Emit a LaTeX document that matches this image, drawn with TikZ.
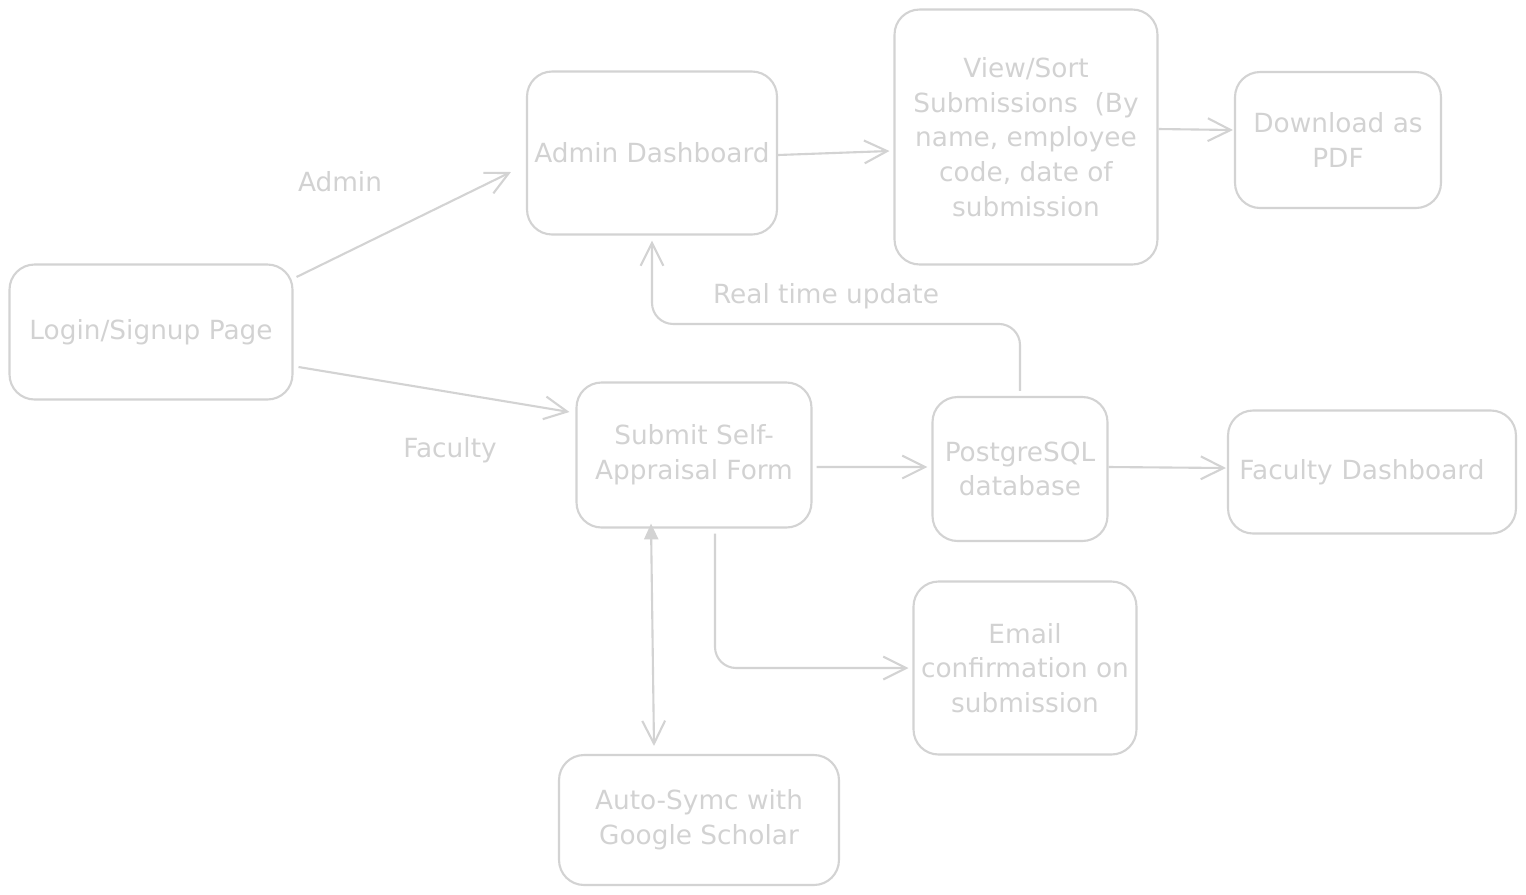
\documentclass[tikz,border=0pt]{standalone}
\usepackage{fontspec}
\setmainfont{DejaVu Sans}
\usetikzlibrary{arrows.meta}
\definecolor{sketch}{RGB}{211, 211, 211}
\definecolor{inkgray}{RGB}{210, 210, 210}

\begin{document}
\begin{tikzpicture}[x=0.02cm, y=-0.02cm,
    box/.style={draw=sketch, line width=1.2pt, rounded corners=0.5cm,
      text=inkgray, align=center, inner sep=2pt,
      font=\fontsize{15}{19.8}\selectfont},
    lbl/.style={text=inkgray, font=\fontsize{15}{19.8}\selectfont},
    arr/.style={draw=sketch, line width=1.2pt,
      -{Straight Barb[length=13pt, width=13pt, line width=1.2pt]}}]
        \useasboundingbox (0,0) rectangle (1526,894);
        % Entry page
        \node[box, minimum width=5.66cm, minimum height=2.70cm] (login) at (151,332) {Login/Signup Page};
        % Admin side
        \node[box, minimum width=5.00cm, minimum height=3.26cm] (admin) at (652,153) {Admin Dashboard};
        \node[box, minimum width=5.26cm, minimum height=5.10cm] (viewsort) at (1026,137)
          {View/Sort\\Submissions~~(By\\name, employee\\code, date of\\submission};
        \node[box, minimum width=4.12cm, minimum height=2.72cm] (download) at (1338,140) {Download as\\PDF};
        % Faculty side
        \node[box, minimum width=4.70cm, minimum height=2.90cm] (submit) at (694,455) {Submit Self-\\Appraisal Form};
        \node[box, minimum width=3.50cm, minimum height=2.88cm] (postgres) at (1020,469) {PostgreSQL\\database};
        \node[box, minimum width=5.76cm, minimum height=2.46cm, text width=5.4cm] (facdash) at (1372,472) {\hspace*{-0.4cm}Faculty Dashboard};
        \node[box, minimum width=4.46cm, minimum height=3.46cm] (email) at (1025,668) {Email\\confirmation on\\submission};
        \node[box, minimum width=5.60cm, minimum height=2.60cm] (autosync) at (699,820) {Auto-Symc with\\Google Scholar};
        % Edge labels
        \node[lbl] (lbladmin) at (340,182) {Admin};
        \node[lbl] (lblfaculty) at (450,450) {Faculty};
        \node[lbl] (lblupdate) at (826,296) {Real time update};
        % Login branches
        \draw[arr] ([xshift=0.06cm, yshift=1.1cm]login.east) -- ([xshift=-0.3cm, yshift=-0.38cm]admin.west);
        \draw[arr] ([xshift=0.1cm, yshift=-0.7cm]login.east) -- ([xshift=-0.12cm, yshift=0.86cm]submit.west);
        % Admin flow
        \draw[arr] ([yshift=-0.04cm]admin.east) -- ([xshift=-0.08cm, yshift=-0.28cm]viewsort.west);
        \draw[arr] ([yshift=0.16cm]viewsort.east) -- ([xshift=-0.02cm, yshift=0.2cm]download.west);
        % Faculty flow
        \draw[arr] ([xshift=0.08cm, yshift=-0.24cm]submit.east) -- ([xshift=-0.08cm, yshift=0.04cm]postgres.west);
        \draw[arr] ([yshift=0.04cm]postgres.east) -- ([xshift=-0.02cm, yshift=0.08cm]facdash.west);
        % Database back to admin
        \draw[arr, rounded corners=12pt] ([yshift=0.1cm]postgres.north) -- ++(0,-67) -| ([yshift=-0.1cm]admin.south);
        % Confirmation mail
        \draw[arr, rounded corners=12pt] ([xshift=0.42cm, yshift=-0.1cm]submit.south) |- ([xshift=-0.08cm]email.west);
        % Scholar sync, both ways
        \draw[arr, {Triangle[length=9pt, width=8pt]}-{Straight Barb[length=13pt, width=13pt, line width=1.2pt]}]
          ([xshift=-0.86cm, yshift=0.1cm]submit.south) -- ([xshift=-0.9cm, yshift=0.16cm]autosync.north);
      \end{tikzpicture}
\end{document}
